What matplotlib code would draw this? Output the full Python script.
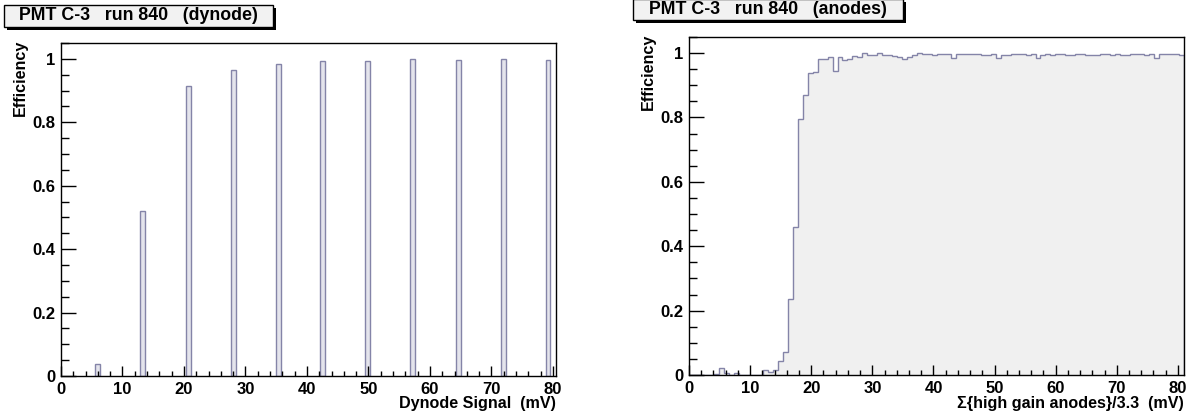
import matplotlib
matplotlib.use('Agg')
import matplotlib.pyplot as plt
from matplotlib.patches import Rectangle
from matplotlib.ticker import MultipleLocator, FuncFormatter
import numpy as np

plt.rcParams['font.family'] = ['Liberation Sans', 'DejaVu Sans']
plt.rcParams['font.weight'] = 'bold'

# --- data ---
# dynode: only the populated bins (bin centre in mV, efficiency)
dyn_centres = [6.0, 13.3, 20.7, 28.0, 35.3, 42.6, 49.9, 57.2, 64.6, 71.9, 79.2]
dyn_eff = [0.038, 0.52, 0.915, 0.965, 0.985, 0.993, 0.993, 0.998, 0.996, 0.998, 0.997]
dyn_xmax = 80.5
dyn_binw = 0.805

# anodes: 100 bins from 0 to 81 mV
anode_xmax = 81.0
anode_eff = [
    0, 0, 0, 0, 0, 0.003, 0.022, 0.005, 0, 0.006,
    0, 0, 0, 0, 0, 0.016, 0.009, 0.015, 0.043, 0.072,
    0.235, 0.46, 0.795, 0.87, 0.937, 0.94, 0.981, 0.983, 0.987, 0.945,
    0.987, 0.978, 0.983, 0.99, 0.987, 0.999, 0.993, 0.993, 0.999, 0.993,
    0.993, 0.99, 0.987, 0.981, 0.987, 0.993, 0.999, 0.998, 0.998, 0.995,
    0.998, 0.998, 0.998, 0.985, 0.998, 0.998, 0.998, 0.998, 0.998, 0.993,
    0.993, 0.998, 0.985, 0.993, 0.993, 0.998, 0.998, 0.998, 0.993, 0.998,
    0.985, 0.995, 0.998, 0.993, 0.998, 0.998, 0.995, 0.995, 0.998, 0.998,
    0.993, 0.993, 0.995, 0.998, 0.998, 0.993, 0.998, 0.995, 0.995, 0.998,
    0.998, 0.998, 0.993, 0.998, 0.985, 0.998, 0.998, 0.998, 0.998, 0.995,
]

titles = ['PMT C-3   run 840   (dynode)', 'PMT C-3   run 840   (anodes)']
xlabels = ['Dynode Signal  (mV)', '\u03a3{high gain anodes}/3.3  (mV)']

line_col = '#8484a8'
bar_fill = '#e4e4ec'
area_fill = '#f0f0f0'
fs_tick = 12
fs_lab = 11.6
fs_title = 12.8

W, H = 1190, 413
fig = plt.figure(figsize=(W / 100, H / 100), dpi=100)


def px_axes(x0, y0, x1, y1):
    # pixel box (top-left origin) -> figure axes
    return fig.add_axes([x0 / W, 1 - y1 / H, (x1 - x0) / W, (y1 - y0) / H])


def style(ax, xmax, xlabel, ylab_y):
    ax.set_xlim(0, xmax)
    ax.set_ylim(0, 1.05)
    ax.xaxis.set_major_locator(MultipleLocator(10))
    ax.xaxis.set_minor_locator(MultipleLocator(2))
    ax.yaxis.set_major_locator(MultipleLocator(0.2))
    ax.yaxis.set_minor_locator(MultipleLocator(0.05))
    ax.yaxis.set_major_formatter(FuncFormatter(lambda v, p: f'{v:g}'))
    ax.tick_params(which='both', direction='in', top=False, right=False,
                   labelsize=fs_tick, width=1, color='black')
    ax.tick_params(axis='x', which='major', length=7.2, pad=4)
    ax.tick_params(axis='x', which='minor', length=3.6)
    ax.tick_params(axis='y', which='major', length=10.8, pad=4)
    ax.tick_params(axis='y', which='minor', length=5.4)
    for s in ax.spines.values():
        s.set_linewidth(1)
    ax.set_ylabel('Efficiency', fontsize=fs_lab, fontweight='bold', loc='top')
    ax.yaxis.set_label_coords(-0.067, 1.01)
    ax.set_xlabel(xlabel, fontsize=fs_lab, fontweight='bold', loc='right')
    ax.xaxis.set_label_coords(1.0, ylab_y)


def title_box(x0, y0, x1, y1, text):
    sh = 3
    fig.add_artist(Rectangle(((x0 + sh) / W, 1 - (y1 + sh) / H), (x1 - x0) / W,
                             (y1 - y0) / H, transform=fig.transFigure,
                             facecolor='black', edgecolor='black', lw=0))
    fig.add_artist(Rectangle((x0 / W, 1 - y1 / H), (x1 - x0) / W, (y1 - y0) / H,
                             transform=fig.transFigure, facecolor='#f2f2f2',
                             edgecolor='black', lw=1))
    fig.text((x0 + x1) / 2 / W, 1 - (y0 + y1) / 2 / H, text, ha='center',
             va='center', fontsize=fs_title, fontweight='bold')


# left: dynode
ax1 = px_axes(61, 43, 556, 376)
ax1.bar(dyn_centres, dyn_eff, width=dyn_binw, facecolor=bar_fill,
        edgecolor=line_col, linewidth=1)
style(ax1, dyn_xmax, xlabels[0], -0.060)

# right: anodes
ax2 = px_axes(689, 37, 1184, 375)
edges = np.linspace(0, anode_xmax, len(anode_eff) + 1)
ax2.stairs(anode_eff, edges, fill=True, facecolor=area_fill, edgecolor='none')
ax2.stairs(anode_eff, edges, color=line_col, linewidth=1)
style(ax2, anode_xmax, xlabels[1], -0.062)

title_box(4, 5, 273, 27, titles[0])
title_box(633, -1, 903, 20, titles[1])

fig.savefig('out.png', dpi=100)
